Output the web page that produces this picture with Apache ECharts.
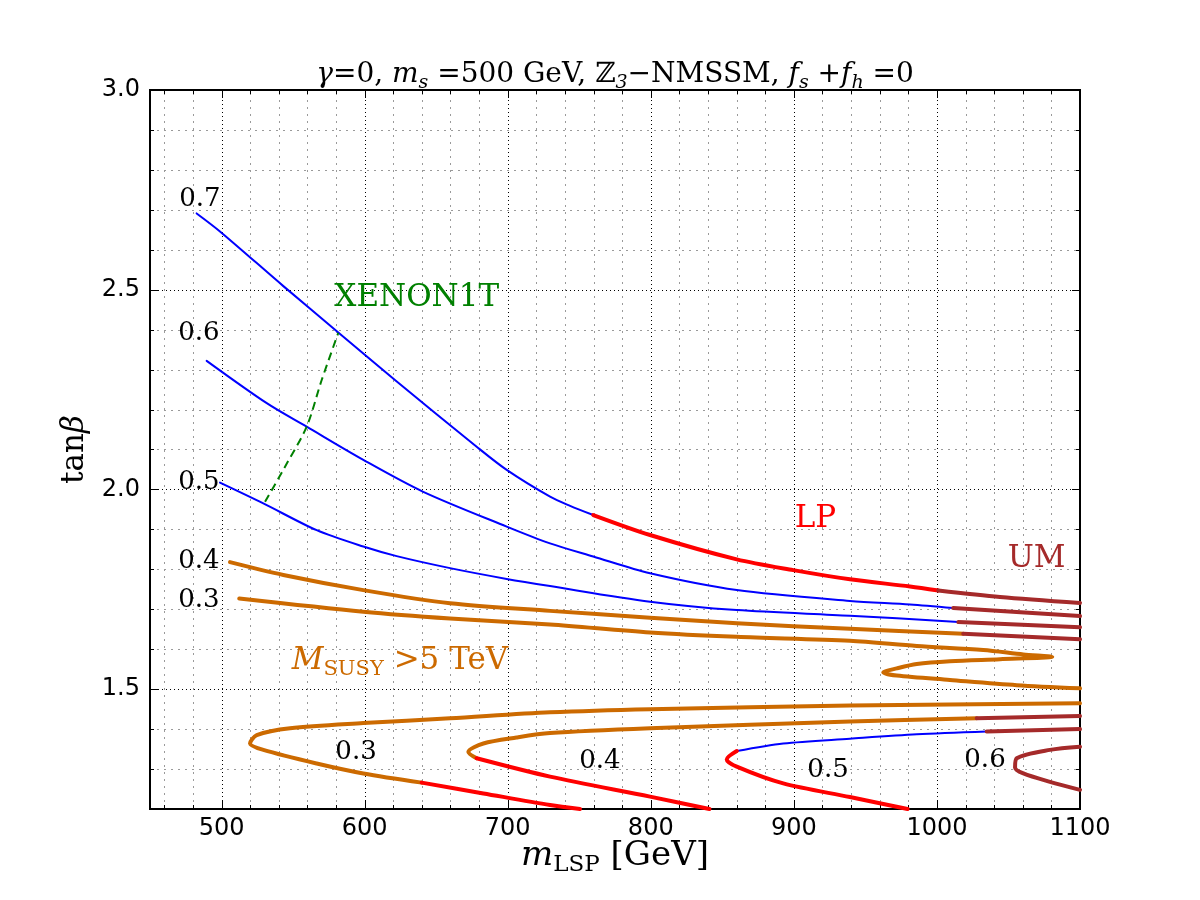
<!DOCTYPE html>
<html lang="en">
<head>
    <meta charset="UTF-8">
    <title>tanbeta vs mLSP</title>
    <script type="text/javascript" src="https://cdn.jsdelivr.net/npm/echarts@6/dist/echarts.min.js"></script>
</head>
<body style="margin:0;">
<div id="myChart" style="width:1200px;height:900px;"></div>
<script type="text/javascript">
    // axis ticks
    var xMajor = [500, 600, 700, 800, 900, 1000, 1100];
    var yMajor = [1.5, 2.0, 2.5, 3.0];

    // contour 0.7 (blue -> LP red -> UM brown)
    var c07Blue = [[482.6, 2.691], [498.9, 2.646], [543.2, 2.509], [581.6, 2.393], [621.2, 2.274], [678.3, 2.107],
        [699.3, 2.049], [729.6, 1.982], [743.6, 1.959], [759.8, 1.936]];
    var c07Red = [[759.8, 1.936], [799.5, 1.886], [860.1, 1.825], [899.6, 1.798], [939.2, 1.775], [981.2, 1.757], [1001.0, 1.747]];
    var c07Brown = [[1001.0, 1.747], [1044.1, 1.731], [1100, 1.716]];
    // contour 0.6
    var c06Blue = [[489.6, 2.322], [531.6, 2.216], [559.5, 2.157], [599.1, 2.074], [641.0, 1.994], [699.3, 1.907],
        [729.6, 1.865], [759.8, 1.832], [799.5, 1.790], [860.1, 1.748], [939.2, 1.721], [981.2, 1.712], [1011.4, 1.703]];
    var c06Brown = [[1011.4, 1.703], [1100, 1.683]];
    // contour 0.5
    var c05Blue = [[498.9, 2.017], [529.2, 1.965], [566.5, 1.898], [599.1, 1.857], [622.4, 1.833], [659.7, 1.803],
        [699.3, 1.776], [729.6, 1.758], [799.5, 1.719], [860.1, 1.698], [939.2, 1.684], [1015.0, 1.668]];
    var c05Brown = [[1015.0, 1.668], [1100, 1.655]];
    // contour 0.4 (upper)
    var c04Orange = [[505.9, 1.818], [543.2, 1.786], [599.1, 1.748], [659.7, 1.715], [729.6, 1.696], [799.5, 1.679],
        [860.1, 1.665], [939.2, 1.651], [1018.4, 1.639]];
    var c04Brown = [[1018.4, 1.639], [1100, 1.625]];
    // contour 0.3 (upper, with the fold)
    var c03Orange = [[512.4, 1.727], [599.1, 1.694], [659.7, 1.677], [729.6, 1.662], [799.5, 1.642], [860.1, 1.631],
        [939.2, 1.621], [985.9, 1.608], [1032.4, 1.598], [1060.4, 1.587], [1080.6, 1.581], [1044.1, 1.575],
        [1009.1, 1.570], [985.9, 1.563], [971.9, 1.552], [962.5, 1.542], [971.9, 1.534], [1009.1, 1.523],
        [1055.8, 1.510], [1100, 1.502]];
    // lower closed-off contours
    var l03Orange = [[1100, 1.465], [939.2, 1.459], [799.5, 1.450], [729.6, 1.442], [659.7, 1.427], [599.1, 1.415],
        [547.9, 1.402], [524.6, 1.385], [519.9, 1.364], [529.2, 1.348], [566.5, 1.314], [599.1, 1.289], [639.9, 1.266]];
    var l03Red = [[639.9, 1.266], [683.0, 1.239], [729.6, 1.210], [750.5, 1.2]];
    var l04Brown = [[1100, 1.433], [1027.8, 1.427]];
    var l04Orange = [[1027.8, 1.427], [939.2, 1.419], [799.5, 1.402], [729.6, 1.390], [706.2, 1.379], [683.0, 1.364],
        [672.5, 1.343], [678.3, 1.327]];
    var l04Red = [[678.3, 1.327], [729.6, 1.281], [799.5, 1.231], [841.0, 1.2]];
    var l05Brown = [[1100, 1.400], [1034.8, 1.394]];
    var l05Blue = [[1034.8, 1.394], [985.9, 1.387], [939.2, 1.376], [892.6, 1.364], [860.1, 1.345]];
    var l05Red = [[860.1, 1.345], [853.1, 1.324], [860.1, 1.306], [892.6, 1.264], [939.2, 1.230], [979.5, 1.2]];
    var l06Brown = [[1100, 1.356], [1079.0, 1.348], [1055.8, 1.327], [1054.6, 1.304], [1060.4, 1.289], [1079.0, 1.268], [1100, 1.248]];
    // XENON1T bound
    var xenon = [[530.4, 1.969], [545.8, 2.066], [559.5, 2.157], [570.0, 2.274], [581.6, 2.392]];

    // contour value labels and where they sit
    var numText = ['0.7', '0.6', '0.5', '0.4', '0.3', '0.3', '0.4', '0.5', '0.6'];
    var numAt = [[484.9, 2.727], [484.2, 2.392], [484.2, 2.019], [484.2, 1.821], [484.2, 1.723],
        [594.0, 1.343], [764.5, 1.320], [923.9, 1.298], [1033.6, 1.323]];
    // region labels
    var tagText = ['XENON1T', 'LP', 'UM', 'MSUSY'];
    var tagAt = [[636.4, 2.479], [915.1, 1.927], [1069.7, 1.827], [624.7, 1.570]];

    var BLUE = '#0000ff', RED = '#ff0000', ORANGE = '#cc6a00', BROWN = '#a52a2a', GREEN = '#008000';
    var serif = 'DejaVu Serif';

    function curve(data, color, width, z) {
        return {
            type: 'line', data: data, showSymbol: false, symbol: 'none', silent: true,
            smooth: 0.3, smoothMonotone: 'none',
            lineStyle: {color: color, width: width, cap: 'round', join: 'round'},
            z: z
        };
    }

    // grid lines + inward ticks on all four sides
    var gridItems = [];
    for (var v = 460; v <= 1100; v += 20) {
        gridItems.push([v, 1.2, xMajor.indexOf(v) >= 0 ? 1 : 0]);
    }
    for (var k = 13; k <= 30; k++) {
        var yv = k / 10;
        var isMaj = yMajor.some(function (m) { return Math.abs(m - yv) < 1e-6; });
        gridItems.push([450, yv, isMaj ? 3 : 2]);
    }

    function drawGrid(params, api) {
        var kind = api.value(2);
        var major = (kind === 1 || kind === 3);
        var len = major ? 8 : 4;
        var gStyle = major ? {stroke: '#000', lineWidth: 1, lineDash: [1, 3]} : {stroke: '#9a9a9a', lineWidth: 1, lineDash: [2, 5]};
        var tStyle = {stroke: '#000', lineWidth: 1};
        var kids = [];
        var a, b;
        if (kind < 2) {
            a = api.coord([api.value(0), 1.2]);
            b = api.coord([api.value(0), 3.0]);
            var x = Math.round(a[0]) + 0.5;
            kids.push({type: 'line', shape: {x1: x, y1: a[1], x2: x, y2: b[1]}, style: gStyle});
            kids.push({type: 'line', shape: {x1: x, y1: a[1], x2: x, y2: a[1] - len}, style: tStyle});
            kids.push({type: 'line', shape: {x1: x, y1: b[1], x2: x, y2: b[1] + len}, style: tStyle});
        } else {
            a = api.coord([450, api.value(1)]);
            b = api.coord([1100, api.value(1)]);
            var y = Math.round(a[1]) + 0.5;
            kids.push({type: 'line', shape: {x1: a[0], y1: y, x2: b[0], y2: y}, style: gStyle});
            kids.push({type: 'line', shape: {x1: a[0], y1: y, x2: a[0] + len, y2: y}, style: tStyle});
            kids.push({type: 'line', shape: {x1: b[0], y1: y, x2: b[0] - len, y2: y}, style: tStyle});
        }
        return {type: 'group', children: kids};
    }

    var tagColor = {XENON1T: GREEN, LP: RED, UM: BROWN, MSUSY: ORANGE};

    var labelData = [];
    numText.forEach(function (t, i) {
        labelData.push({value: numAt[i], label: {formatter: t, color: '#000', fontSize: 26}});
    });
    tagText.forEach(function (t, i) {
        var c = tagColor[t];
        var item = {value: tagAt[i], label: {formatter: t, color: c, fontSize: 31}};
        if (t === 'MSUSY') {
            item.label.formatter = '{i|M}{s|SUSY}{r| >5 TeV}';
            item.label.rich = {
                i: {fontFamily: serif, fontStyle: 'italic', fontSize: 31, lineHeight: 38, color: c},
                s: {fontFamily: serif, fontSize: 21, lineHeight: 21, verticalAlign: 'bottom', color: c},
                r: {fontFamily: serif, fontSize: 31, lineHeight: 38, color: c}
            };
        }
        labelData.push(item);
    });

    var myChart = echarts.init(document.getElementById('myChart'));
    var option = {
        animation: false,
        backgroundColor: '#fff',
        title: {
            text: '{i|γ}{r|=0, }{i|m}{s|s}{r| =500 GeV, ℤ}{s|3}{r|−NMSSM, }{i|f}{s|s}{r| +}{i|f}{s|h}{r| =0}',
            left: 610,
            textAlign: 'center',
            top: 52,
            textStyle: {
                fontWeight: 'normal',
                rich: {
                    i: {fontFamily: serif, fontStyle: 'italic', fontWeight: 'normal', fontSize: 28, lineHeight: 36, color: '#000'},
                    r: {fontFamily: serif, fontWeight: 'normal', fontSize: 28, lineHeight: 36, color: '#000'},
                    s: {fontFamily: serif, fontStyle: 'italic', fontWeight: 'normal', fontSize: 19, lineHeight: 19, verticalAlign: 'bottom', color: '#000'}
                }
            }
        },
        grid: {
            left: 150, top: 90, width: 930, height: 719,
            show: true, borderColor: '#000', borderWidth: 2, backgroundColor: 'transparent'
        },
        xAxis: {
            type: 'value', min: 450, max: 1100, interval: 10,
            axisLine: {show: false}, axisTick: {show: false}, splitLine: {show: false},
            axisLabel: {
                margin: 8, fontFamily: 'DejaVu Sans', fontSize: 24, color: '#000',
                formatter: function (v) { return xMajor.indexOf(Math.round(v)) >= 0 && Math.abs(v - Math.round(v)) < 1e-6 ? String(Math.round(v)) : ''; }
            },
            name: '{i|m}{s|LSP}{r| [GeV]}',
            nameLocation: 'middle',
            nameGap: 26,
            nameMoveOverlap: false,
            nameTextStyle: {
                rich: {
                    i: {fontFamily: serif, fontStyle: 'italic', fontSize: 34, lineHeight: 42, color: '#000'},
                    s: {fontFamily: serif, fontSize: 23, lineHeight: 23, verticalAlign: 'bottom', color: '#000'},
                    r: {fontFamily: serif, fontSize: 34, lineHeight: 42, color: '#000'}
                }
            }
        },
        yAxis: {
            type: 'value', min: 1.2, max: 3.0, interval: 0.1,
            axisLine: {show: false}, axisTick: {show: false}, splitLine: {show: false},
            axisLabel: {
                margin: 10, fontFamily: 'DejaVu Sans', fontSize: 24, color: '#000',
                formatter: function (v) {
                    var r = Math.round(v * 10);
                    return r % 5 === 0 ? (r / 10).toFixed(1) : '';
                }
            },
            name: '{r|tan}{i|β}',
            nameLocation: 'middle',
            nameRotate: 90,
            nameGap: 58,
            nameTextStyle: {
                rich: {
                    r: {fontFamily: serif, fontSize: 31, color: '#000'},
                    i: {fontFamily: serif, fontStyle: 'italic', fontSize: 31, color: '#000'}
                }
            }
        },
        series: [
            {
                type: 'custom', data: gridItems, renderItem: drawGrid, silent: true, clip: false, z: 1,
                encode: {x: 0, y: 1}
            },
            curve(c07Blue, BLUE, 2, 3), curve(c07Red, RED, 4, 4), curve(c07Brown, BROWN, 4, 4),
            curve(c06Blue, BLUE, 2, 3), curve(c06Brown, BROWN, 4, 4),
            curve(c05Blue, BLUE, 2, 3), curve(c05Brown, BROWN, 4, 4),
            curve(c04Orange, ORANGE, 4, 3), curve(c04Brown, BROWN, 4, 4),
            curve(c03Orange, ORANGE, 4, 3),
            curve(l03Orange, ORANGE, 4, 3), curve(l03Red, RED, 4, 4),
            curve(l04Brown, BROWN, 4, 4), curve(l04Orange, ORANGE, 4, 3), curve(l04Red, RED, 4, 4),
            curve(l05Brown, BROWN, 4, 4), curve(l05Blue, BLUE, 2, 3), curve(l05Red, RED, 4, 4),
            curve(l06Brown, BROWN, 4, 4),
            {
                type: 'line', data: xenon, showSymbol: false, symbol: 'none', silent: true, z: 3,
                smooth: 0.3,
                lineStyle: {color: GREEN, width: 2, type: [8, 5]}
            },
            {
                type: 'scatter', data: labelData, symbolSize: 0, silent: true, z: 5,
                itemStyle: {opacity: 0},
                label: {
                    show: true, position: 'inside', fontFamily: serif, align: 'center', verticalAlign: 'middle',
                    textBorderWidth: 0, textBorderColor: 'transparent', textShadowBlur: 0, opacity: 1
                }
            }
        ]
    };
    myChart.setOption(option);
</script>
</body>
</html>
